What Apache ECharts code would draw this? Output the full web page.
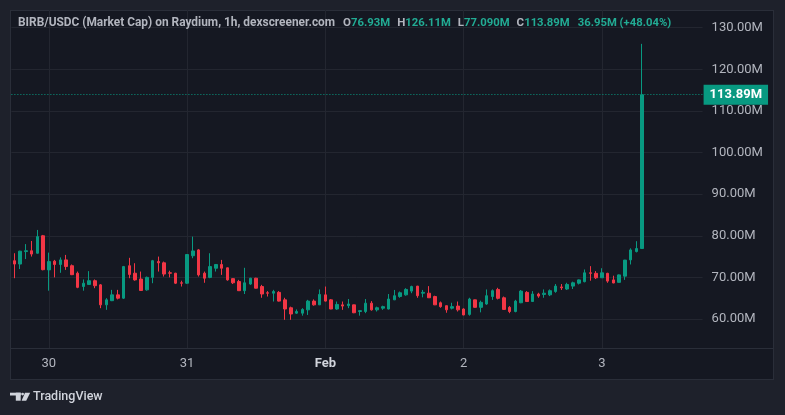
<!DOCTYPE html>
<html><head><meta charset="utf-8">
<script src="https://cdn.jsdelivr.net/npm/echarts@6/dist/echarts.min.js"></script>
<style>
html,body{margin:0;padding:0;background:#1e212b;width:785px;height:415px;overflow:hidden;}
#frame{position:absolute;left:10px;top:10px;width:762px;height:368px;background:#151822;border:1px solid #2a2e39;}
#sep{position:absolute;left:10px;top:348px;width:764px;height:1px;background:#2a2e39;}
#chart{position:absolute;left:0;top:0;width:785px;height:415px;}
</style></head><body>
<div id="frame"></div><div id="sep"></div><div id="chart"></div>
<script>
// Hourly OHLC (market cap, millions USD), Jan 29 18:00 -> Feb 3 07:00
const opens = [74.0,73.2,76.2,76.4,75.8,80.0,71.8,73.9,73.1,74.2,72.8,71.0,67.8,68.3,69.2,68.2,63.4,64.4,65.8,65.0,
72.8,71.0,69.6,67.0,70.0,73.8,73.5,71.1,71.0,68.7,68.6,75.2,76.6,71.0,70.0,72.2,73.1,72.3,69.7,69.0,
66.8,68.4,69.8,67.8,66.3,66.2,66.4,64.6,62.7,61.4,61.4,62.2,64.3,63.4,65.8,64.6,62.4,63.4,63.2,63.4,
61.8,61.8,63.8,62.2,62.6,62.4,64.6,65.4,65.8,66.7,67.9,66.2,66.2,65.4,63.9,63.2,62.6,63.1,62.4,61.1,
64.6,62.8,63.6,65.4,67.1,65.1,62.8,61.8,63.9,66.4,64.2,66.0,65.9,65.8,66.6,67.7,67.2,67.9,68.6,68.97,
71.1,70.97,69.9,70.97,69.4,68.8,70.3,74.2,76.2,76.93];
const highs = [75.8,76.4,78.0,78.75,81.4,80.2,75.95,74.2,74.8,75.4,73.1,71.4,69.5,71.5,69.5,68.4,65.0,67.0,67.0,72.75,
74.7,73.4,71.4,70.2,74.2,75.0,73.8,71.6,71.1,69.2,75.6,79.8,76.8,71.4,75.8,73.2,74.2,72.35,69.8,69.4,
72.3,69.9,69.9,68.2,66.7,67.0,66.7,65.1,62.97,62.3,62.6,64.6,64.7,67.1,67.8,64.8,64.2,64.2,64.8,63.45,
62.05,64.8,64.3,62.97,63.2,66.0,66.98,66.6,67.4,68.0,67.95,66.98,67.9,65.6,64.2,63.25,63.9,64.2,62.57,65.1,
64.65,64.4,67.1,67.1,67.5,65.4,63.1,64.6,66.97,66.7,66.7,66.3,67.1,67.1,68.4,68.4,68.7,68.97,69.5,71.9,
72.7,71.5,72.2,71.1,70.4,70.7,74.2,76.98,78.7,126.11];
const lows = [69.8,72.0,74.4,75.0,75.7,71.7,66.8,70.0,71.1,71.8,70.55,67.4,66.8,68.2,67.4,62.6,62.2,64.3,64.7,64.8,
69.8,69.2,66.75,66.8,68.6,71.4,70.2,70.0,68.4,67.8,68.4,74.6,70.2,68.7,69.8,71.4,70.6,69.2,68.4,66.75,
66.0,68.2,67.35,65.1,65.4,64.2,64.2,59.8,59.8,61.2,60.8,60.97,63.2,63.35,64.2,62.35,62.2,62.2,62.6,61.4,
60.8,61.4,62.0,61.8,62.2,62.3,64.55,65.1,65.6,66.2,65.1,65.2,65.05,63.35,62.7,61.5,62.3,61.8,60.9,60.8,
62.75,61.6,63.4,64.6,64.7,62.2,61.4,61.6,63.8,64.15,64.15,65.1,65.1,65.5,66.3,66.97,66.97,67.2,68.3,68.8,
69.2,69.6,69.85,68.7,68.6,68.75,69.4,73.1,76.0,77.09];
const closes = [73.2,76.3,76.4,75.6,79.8,71.85,73.8,73.1,74.2,72.6,70.65,67.6,68.6,69.2,68.0,63.4,64.6,65.8,65.0,72.6,
70.7,69.4,66.85,70.0,74.0,73.5,70.8,71.0,68.6,68.6,75.5,76.35,70.6,69.8,72.6,73.1,72.2,69.4,68.7,66.8,
68.7,69.8,67.4,66.0,66.2,66.6,64.3,62.4,61.2,61.8,62.3,64.3,63.4,65.9,64.3,62.4,63.5,63.1,63.6,61.5,
62.0,63.8,62.2,62.7,62.97,64.8,65.6,66.3,67.1,67.8,65.6,66.4,65.1,63.4,62.97,62.2,62.97,62.2,60.97,64.8,
62.8,64.0,65.6,66.8,64.97,62.3,61.8,64.3,66.7,64.2,66.0,65.5,66.2,66.8,67.9,67.5,68.3,68.7,69.4,71.1,
70.97,69.9,71.1,69.1,68.65,70.6,74.15,76.6,76.94,113.89];

const days = ['01-29','01-30','01-31','02-01','02-02','02-03'];
const firstHour = 18;
const slotCount = 120; // hourly slots shown on the time axis (incl. empty right margin)
const dayLabels = {'01-30 00:00':'30','01-31 00:00':'31','02-01 00:00':'Feb','02-02 00:00':'2','02-03 00:00':'3'};
const boldLabels = ['Feb'];

const headerTitle = 'BIRB/USDC (Market Cap) on Raydium, 1h, dexscreener.com';
const headerKeys = ['O','H','L','C'];
const headerVals = ['76.93M','126.11M','77.090M','113.89M'];
const headerChange = '36.95M (+48.04%)';
const lastPrice = 113.89;

const categories = [];
for (const d of days) {
  for (let h = 0; h < 24; h++) {
    if (d === days[0] && h < firstHour) continue;
    if (categories.length < slotCount) categories.push(d + ' ' + String(h).padStart(2,'0') + ':00');
  }
}
const ohlc = opens.map((o,i)=>[o, closes[i], lows[i], highs[i]]);

const UP = '#089981', DOWN = '#f23645', GRID = '#232630', TXT = '#b2b5be';
const FONT = 'Roboto';

let head = '{t|' + headerTitle + '}';
headerKeys.forEach((k,i)=>{ head += '{k|' + k + '}{v|' + headerVals[i] + '}'; });
head += '{s|}{v|' + headerChange + '}';

const isDay = (i, v) => dayLabels[v] !== undefined;

const chart = echarts.init(document.getElementById('chart'));
chart.setOption({
  animation: false,
  backgroundColor: 'transparent',
  title: {
    text: head, left: 18, top: 17, padding: 0,
    textStyle: {
      fontFamily: FONT, fontSize: 11.9, color: TXT,
      rich: {
        t: {fontFamily: FONT, fontSize: 11.9, color: TXT, padding: [0,1,0,0]},
        k: {fontFamily: FONT, fontSize: 11.5, color: TXT, padding: [0,0,0,7]},
        v: {fontFamily: FONT, fontSize: 11.3, color: '#22ab94'},
        s: {width: 8}
      }
    }
  },
  grid: {left: 11.4, right: 82.4, top: 10, bottom: 67, containLabel: false, outerBoundsMode: 'none'},
  xAxis: {
    type: 'category', data: categories, boundaryGap: true,
    axisLine: {show: false}, axisTick: {show: false},
    axisLabel: {
      interval: isDay, color: TXT, fontSize: 13, fontFamily: FONT, margin: 9,
      formatter: v => boldLabels.includes(dayLabels[v]) ? '{b|' + dayLabels[v] + '}' : dayLabels[v],
      rich: {b: {fontWeight: 'bold', color: '#d1d4dc', fontSize: 13, fontFamily: FONT}}
    },
    splitLine: {show: true, interval: isDay, alignWithLabel: true, lineStyle: {color: GRID, width: 1}}
  },
  yAxis: {
    type: 'value', position: 'right', scale: true,
    min: 53.03, max: 134.25, minInterval: 10, maxInterval: 10, splitNumber: 8,
    axisLine: {show: false}, axisTick: {show: false},
    axisLabel: {color: TXT, fontSize: 13, fontFamily: FONT, margin: 9, align: 'left',
      showMinLabel: false, showMaxLabel: false, formatter: v => v.toFixed(2) + 'M'},
    splitLine: {show: true, showMinLine: false, showMaxLine: false, lineStyle: {color: GRID, width: 1}}
  },
  series: [{
    type: 'candlestick', data: ohlc, barWidth: 3,
    itemStyle: {color: UP, color0: DOWN, borderColor: UP, borderColor0: DOWN, borderWidth: 1},
    markLine: {
      silent: true, symbol: ['none','none'], animation: false,
      lineStyle: {color: UP, type: [1,2], width: 1},
      label: {show: true, position: 'end', distance: 1, formatter: lastPrice.toFixed(2) + 'M',
        backgroundColor: UP, color: '#ffffff', fontWeight: 'bold', fontSize: 13, fontFamily: FONT,
        padding: [4,6,3,6]},
      data: [{yAxis: lastPrice}]
    }
  }],
  graphic: [
    {type: 'rect', shape: {x: 10, y: 392.7, width: 10.7, height: 2.8}, style: {fill: '#d1d4dc'}},
    {type: 'rect', shape: {x: 15.8, y: 392.7, width: 4.9, height: 8}, style: {fill: '#d1d4dc'}},
    {type: 'circle', shape: {cx: 22.6, cy: 394.1, r: 1.4}, style: {fill: '#d1d4dc'}},
    {type: 'polygon', shape: {points: [[25,392.7],[30.2,392.7],[26.2,400.7],[21.6,400.7]]}, style: {fill: '#d1d4dc'}},
    {type: 'text', x: 33, y: 397, style: {text: 'TradingView', fill: '#d1d4dc', font: '500 12.5px Roboto', textVerticalAlign: 'middle'}}
  ]
});
</script></body></html>
